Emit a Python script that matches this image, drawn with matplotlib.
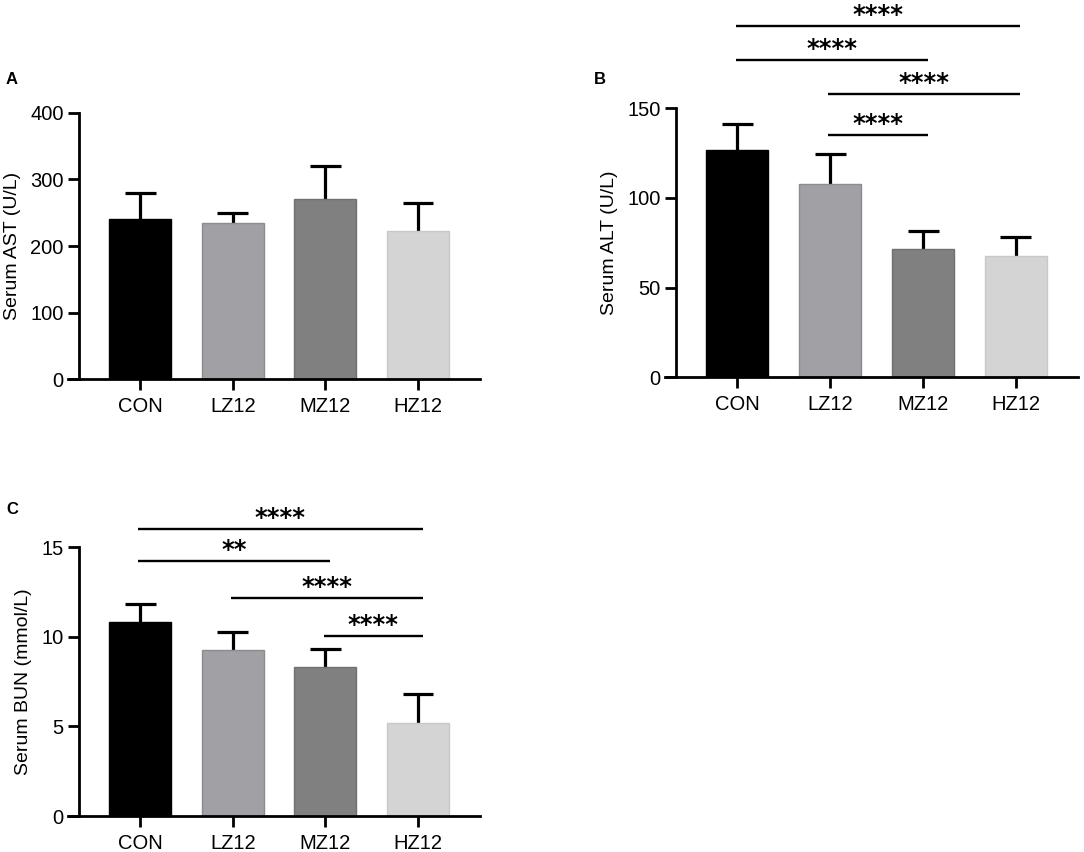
import numpy as np
import matplotlib
matplotlib.use("Agg")
import matplotlib.pyplot as plt

plt.rcParams['font.family'] = ['Liberation Sans', 'DejaVu Sans']

groups = ['CON', 'LZ12', 'MZ12', 'HZ12']
bar_colors = ['#000000', '#a1a1a5', '#808080', '#d4d4d4']
edge_colors = ['#000000', '#8c8c90', '#707070', '#c8c8c8']

# panel A - AST
ast_mean = [241, 234, 271, 222]
ast_err = [39, 15, 49, 42]
# panel B - ALT
alt_mean = [126.5, 108, 71.4, 67.8]
alt_err = [14.5, 16.5, 10.3, 10.6]
alt_pairs = [(0, 3), (0, 2), (1, 3), (1, 2)]
alt_heights = [196, 176.8, 157.8, 135]
alt_stars = ['****', '****', '****', '****']
# panel C - BUN
bun_mean = [10.81, 9.29, 8.32, 5.21]
bun_err = [1.01, 0.97, 0.99, 1.58]
bun_pairs = [(0, 3), (0, 2), (1, 3), (2, 3)]
bun_heights = [16.02, 14.22, 12.15, 10.05]
bun_stars = ['****', '**', '****', '****']

W, H = 1084, 852
fig = plt.figure(figsize=(W / 100, H / 100), dpi=100)


def px_axes(l, t, r, b):
    return fig.add_axes([l / W, 1 - b / H, (r - l) / W, (b - t) / H])


def panel(ax, mean, err, ymax, step, ylabel, letter, lpos):
    x = np.arange(len(groups))
    mean = np.array(mean)
    top = mean + np.array(err)
    ax.bar(x, mean, width=0.67, color=bar_colors, edgecolor=edge_colors, linewidth=1, zorder=2)
    # upper error bars only (drawn behind the bar top)
    ax.vlines(x, mean, top, color='black', lw=2.3, zorder=1)
    ax.hlines(top, x - 0.167, x + 0.167, color='black', lw=2.3, zorder=3)
    ax.set_xlim(-0.78, 3.67)
    ax.set_ylim(0, ymax)
    ax.spines['top'].set_visible(False)
    ax.spines['right'].set_visible(False)
    ax.spines['left'].set_position(('data', -0.66))
    ax.spines['left'].set_bounds(0, ymax)
    for s in ['left', 'bottom']:
        ax.spines[s].set_linewidth(2)
    ax.set_yticks(np.arange(0, ymax + step / 2, step))
    ax.set_xticks(x)
    ax.set_xticklabels(groups)
    ax.tick_params(axis='both', length=8, width=2, labelsize=14.5, colors='black')
    ax.tick_params(axis='y', pad=3)
    ax.tick_params(axis='x', pad=5)
    ax.set_ylabel(ylabel, fontsize=14, labelpad=7)
    fig.text(lpos[0] / W, 1 - lpos[1] / H, letter, fontsize=12, fontweight='bold',
             ha='center', va='center')


def sig(ax, pairs, heights, stars):
    for (i, j), y, s in zip(pairs, heights, stars):
        x0, x1 = i - 0.02, j + 0.05
        ax.plot([x0, x1], [y, y], color='black', lw=1.7, clip_on=False, solid_capstyle='butt')
        ax.annotate(s, xy=((x0 + x1) / 2, y), xytext=(0, 3), textcoords='offset points',
                    ha='center', va='baseline', fontsize=17.5, fontweight='bold',
                    family='DejaVu Sans', annotation_clip=False)


axA = px_axes(68, 112.7, 480, 379.3)
panel(axA, ast_mean, ast_err, 400, 100, 'Serum AST (U/L)', 'A', (12, 79))

axB = px_axes(665, 108.3, 1078, 377.3)
panel(axB, alt_mean, alt_err, 150, 50, 'Serum ALT (U/L)', 'B', (600, 79))
sig(axB, alt_pairs, alt_heights, alt_stars)

axC = px_axes(68, 547.3, 480, 816)
panel(axC, bun_mean, bun_err, 15, 5, 'Serum BUN (mmol/L)', 'C', (12, 510))
sig(axC, bun_pairs, bun_heights, bun_stars)

fig.savefig('out.png', dpi=100)
